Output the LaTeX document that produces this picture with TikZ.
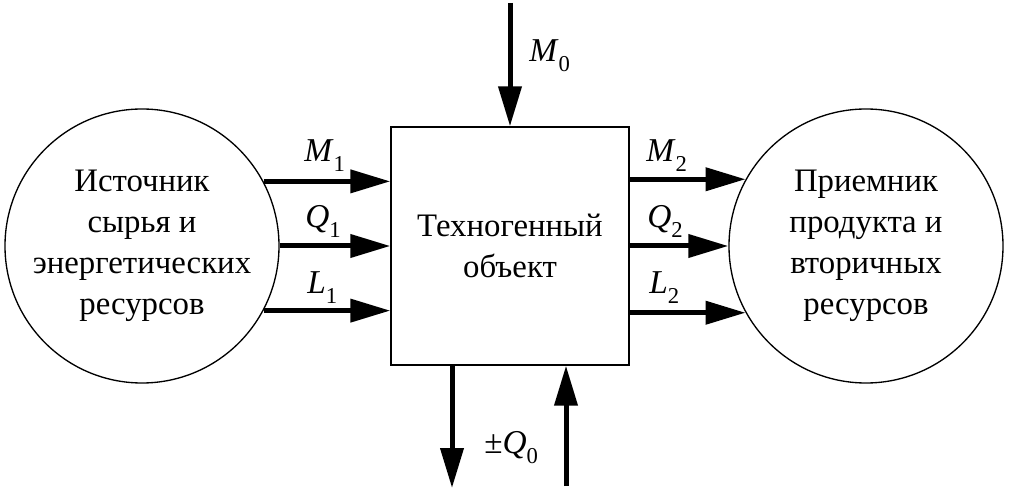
\documentclass[tikz,border=0pt]{standalone}
\usepackage{fontspec}
\setmainfont{Liberation Serif}
\usetikzlibrary{arrows.meta, positioning}
\newcommand{\flowsym}[2]{\textit{#1}\raisebox{-7.5pt}{\fontsize{17}{17}\selectfont #2}}

\begin{document}
\begin{tikzpicture}[x=0.75pt, y=-0.75pt, on grid,
    res/.style={draw, circle, line width=1pt, minimum size=205.5pt, inner sep=0pt,
      align=center, font=\fontsize{24.6}{30.8}\selectfont},
    obj/.style={draw, rectangle, line width=1pt, minimum width=178.5pt,
      minimum height=178.5pt, align=center, font=\fontsize{24.6}{30.8}\selectfont},
    flow/.style={line width=3.75pt, -{Triangle[length=30pt, width=17pt]}},
    lbl/.style={anchor=base west, inner sep=0pt, font=\fontsize{25}{25}\selectfont}]
  \useasboundingbox (0,0) rectangle (1011,495);
  \node[obj] (obj) at (510,246) {Техногенный\\объект};
  \node[res, left=276pt of obj] (src) {Источник\\сырья и\\энергетических\\ресурсов};
  \node[res, right=267pt of obj] (dst) {Приемник\\продукта и\\вторичных\\ресурсов};
  % inputs
  \draw[flow] (src.28.3) -- (src.28.3 -| obj.west);
  \draw[flow] (src.east) -- (src.east -| obj.west);
  \draw[flow] (src.-28.3) -- (src.-28.3 -| obj.west);
  \node[lbl] (m1) at (304,162) {\flowsym{M}{1}};
  \node[lbl] (q1) at (305,228) {\flowsym{Q}{1}};
  \node[lbl] (l1) at (307,294) {\flowsym{L}{1}};
  % outputs
  \draw[flow] (dst.151.7 -| obj.east) -- (dst.151.7);
  \draw[flow] (dst.west -| obj.east) -- (dst.west);
  \draw[flow] (dst.-151.7 -| obj.east) -- (dst.-151.7);
  \node[lbl] (m2) at (646,162) {\flowsym{M}{2}};
  \node[lbl] (q2) at (647,228) {\flowsym{Q}{2}};
  \node[lbl] (l2) at (649,294) {\flowsym{L}{2}};
  % top and bottom
  \coordinate (m0in) at (510,3);
  \coordinate (q0out) at (452,488);
  \coordinate (q0in) at (566,486);
  \draw[flow] (m0in) -- (obj.north);
  \draw[flow] (q0out |- obj.south) -- (q0out);
  \draw[flow] (q0in) -- (q0in |- obj.south);
  \node[lbl] (m0) at (529,62) {\flowsym{M}{0}};
  \node[lbl] (q0) at (484,454) {±\flowsym{Q}{0}};
\end{tikzpicture}
\end{document}
